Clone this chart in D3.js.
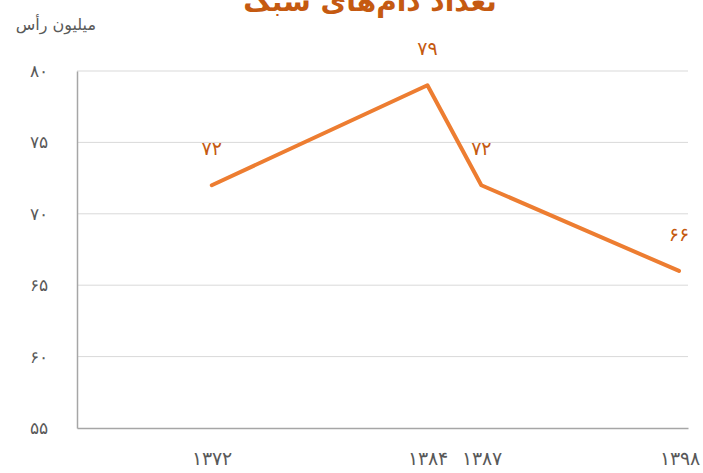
<!DOCTYPE html>
<html>
<head>
<meta charset="utf-8">
<script src="https://cdn.jsdelivr.net/npm/d3@7"></script>
<style>
  body { margin: 0; background: #fff; }
  svg { display: block; font-family: "DejaVu Sans", sans-serif; }
</style>
</head>
<body>
<div id="chart"></div>
<script>
const years = [1372, 1384, 1387, 1398];
const yearLabels = ["۱۳۷۲", "۱۳۸۴", "۱۳۸۷", "۱۳۹۸"];
const values = [72, 79, 72, 66];
const valueLabels = ["۷۲", "۷۹", "۷۲", "۶۶"];
const yTicks = [55, 60, 65, 70, 75, 80];
const yTickLabels = ["۵۵", "۶۰", "۶۵", "۷۰", "۷۵", "۸۰"];
const title = "تعداد دام‌های سبک";
const unitLabel = "میلیون رأس";

const width = 703, height = 473;
const plotLeft = 77, plotRight = 688, plotTop = 71, plotBottom = 428;

const svg = d3.select("#chart").append("svg")
    .attr("width", width)
    .attr("height", height);

const x = d3.scaleLinear().domain([1364.5, 1398.5]).range([plotLeft, plotRight]);
const y = d3.scaleLinear().domain([55, 80]).range([plotBottom, plotTop]);

// gridlines
svg.append("g")
    .selectAll("line")
    .data(yTicks.filter(d => d > 55))
    .enter()
    .append("line")
    .attr("x1", plotLeft)
    .attr("x2", plotRight)
    .attr("y1", d => y(d))
    .attr("y2", d => y(d))
    .attr("stroke", "#d9d9d9")
    .attr("stroke-width", 1);

// y axis
const yAxis = svg.append("g")
    .attr("transform", `translate(${plotLeft},0)`)
    .call(d3.axisLeft(y).tickValues(yTicks).tickSize(0).tickPadding(29)
        .tickFormat((d, i) => yTickLabels[i]));
yAxis.select(".domain").attr("stroke", "#a6a6a6").attr("stroke-width", 1.5);
yAxis.selectAll("text")
    .attr("fill", "#595959")
    .style("font-size", "17px");

// x axis
const xAxis = svg.append("g")
    .attr("transform", `translate(0,${plotBottom})`)
    .call(d3.axisBottom(x).tickValues(years).tickSize(0).tickPadding(24)
        .tickFormat((d, i) => yearLabels[i]));
xAxis.select(".domain").attr("stroke", "#a6a6a6").attr("stroke-width", 1.5);
xAxis.selectAll("text")
    .attr("fill", "#595959")
    .style("font-size", "19px");

// line
const line = d3.line()
    .x((d, i) => x(years[i]))
    .y(d => y(d));

svg.append("path")
    .datum(values)
    .attr("d", line)
    .attr("fill", "none")
    .attr("stroke", "#ed7d31")
    .attr("stroke-width", 4)
    .attr("stroke-linejoin", "round")
    .attr("stroke-linecap", "round");

// data labels
svg.append("g")
    .selectAll("text")
    .data(values)
    .enter()
    .append("text")
    .attr("x", (d, i) => x(years[i]))
    .attr("y", d => y(d) - 30)
    .attr("text-anchor", "middle")
    .attr("fill", "#c55a11")
    .style("font-size", "19px")
    .text((d, i) => valueLabels[i]);

// title
svg.append("text")
    .attr("x", 370)
    .attr("y", 11)
    .attr("text-anchor", "middle")
    .attr("fill", "#c55a11")
    .style("font-size", "28px")
    .style("font-weight", "bold")
    .attr("direction", "rtl")
    .text(title);

// unit label
svg.append("text")
    .attr("x", 96)
    .attr("y", 30)
    .attr("text-anchor", "start")
    .attr("direction", "rtl")
    .attr("fill", "#595959")
    .style("font-size", "16px")
    .text(unitLabel);
</script>
</body>
</html>
